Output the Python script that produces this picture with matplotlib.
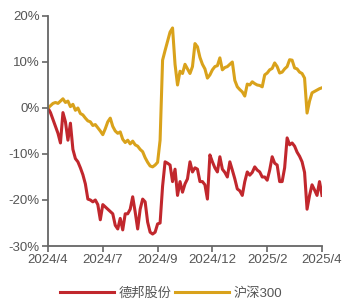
import matplotlib
matplotlib.use('Agg')
import matplotlib.pyplot as plt
import numpy as np
from matplotlib.ticker import FuncFormatter

plt.rcParams['font.family'] = ['Liberation Sans', 'Noto Sans CJK SC', 'DejaVu Sans']

# 累计涨跌幅 (%), 等间隔交易日
debang = [0, -1.0, -2.5, -4.0, -5.5, -7.6, -1.0, -3.0, -7.0, -3.3,
          -9.0, -11.0, -11.7, -13.0, -14.5, -16.5, -19.8, -20.0, -20.4, -20.0,
          -21.0, -24.3, -21.0, -21.5, -22.0, -22.5, -23.0, -25.5, -26.3, -24.0,
          -26.5, -23.0, -23.0, -22.0, -19.3, -22.6, -26.3, -22.0, -19.8, -20.4,
          -24.8, -27.0, -27.4, -27.0, -25.2, -25.0, -17.0, -11.7, -12.0, -12.4,
          -16.0, -13.3, -19.0, -16.0, -18.3, -16.5, -15.4, -11.7, -13.9, -13.0,
          -13.3, -16.0, -16.0, -16.7, -19.8, -10.2, -11.7, -13.0, -13.9, -10.6,
          -13.3, -14.0, -15.0, -11.7, -13.5, -15.4, -17.6, -18.0, -19.0, -16.0,
          -13.9, -14.6, -14.0, -12.8, -13.5, -13.9, -15.0, -15.0, -15.7, -13.5,
          -10.6, -12.0, -12.4, -16.0, -16.0, -13.0, -6.5, -8.0, -7.6, -8.3,
          -9.6, -10.5, -11.7, -14.0, -22.0, -19.0, -16.7, -17.8, -19.0, -16.0,
          -19.0]
hs300 = [0, 0.5, 1.0, 1.2, 1.0, 1.5, 2.0, 1.2, 1.5, 0.3,
         0.8, -0.5, 0, -1.2, -1.5, -2.2, -2.8, -3.0, -3.8, -3.6,
         -4.3, -5.0, -5.8, -4.5, -3.0, -2.2, -4.0, -5.0, -5.5, -5.2,
         -6.8, -7.5, -7.0, -7.8, -7.2, -8.0, -8.3, -9.0, -9.5, -10.8,
         -11.8, -12.6, -12.8, -12.4, -11.8, -7.0, 10.4, 12.5, 14.5, 16.5,
         17.4, 9.5, 5.0, 8.0, 7.5, 9.5, 8.5, 7.5, 9.0, 14.0,
         13.3, 11.0, 9.5, 8.5, 6.5, 7.2, 8.3, 9.0, 9.2, 10.9,
         8.3, 8.8, 9.0, 9.5, 10.0, 6.0, 4.6, 4.0, 3.5, 2.6,
         5.2, 5.0, 5.7, 5.3, 5.0, 4.9, 4.6, 7.2, 7.6, 8.3,
         8.6, 9.8, 9.0, 7.6, 7.8, 8.5, 9.0, 10.5, 10.4, 8.7,
         8.5, 7.8, 7.5, 6.5, -1.1, 1.5, 3.3, 3.6, 3.9, 4.2,
         4.4]
xlabels = ['2024/4', '2024/7', '2024/9', '2024/12', '2025/2', '2025/4']

x = np.arange(len(debang))

fig = plt.figure(figsize=(3.42, 3.04), dpi=100)
ax = fig.add_axes([48/342, 1-246/304, 274/342, 230/304])

ax.plot(x, debang, color='#C1272D', lw=2.2, label='德邦股份', solid_joinstyle='round')
ax.plot(x, hs300, color='#D9A21B', lw=2.2, label='沪深300', solid_joinstyle='round')

ax.set_xlim(0, len(x) - 1)
ax.set_ylim(-30, 20)
ax.set_yticks(np.arange(-30, 21, 10))
ax.yaxis.set_major_formatter(FuncFormatter(lambda v, p: '%d%%' % v))
ax.set_xticks(np.linspace(0, len(x) - 1, len(xlabels)))
ax.set_xticklabels(xlabels)

for s in ['top', 'right']:
    ax.spines[s].set_visible(False)
for s in ['left', 'bottom']:
    ax.spines[s].set_color('#666666')
    ax.spines[s].set_linewidth(1.3)
ax.tick_params(colors='#666666', labelcolor='#555555', labelsize=9.5,
               length=4, width=1.2, pad=2)

fig.legend(loc='lower center', bbox_to_anchor=(0.5, -0.025), ncol=2,
           frameon=False, fontsize=9.5, handlelength=4.1, columnspacing=0.3,
           handletextpad=0.3, labelcolor='#555555')

fig.savefig('out.png', dpi=100)
